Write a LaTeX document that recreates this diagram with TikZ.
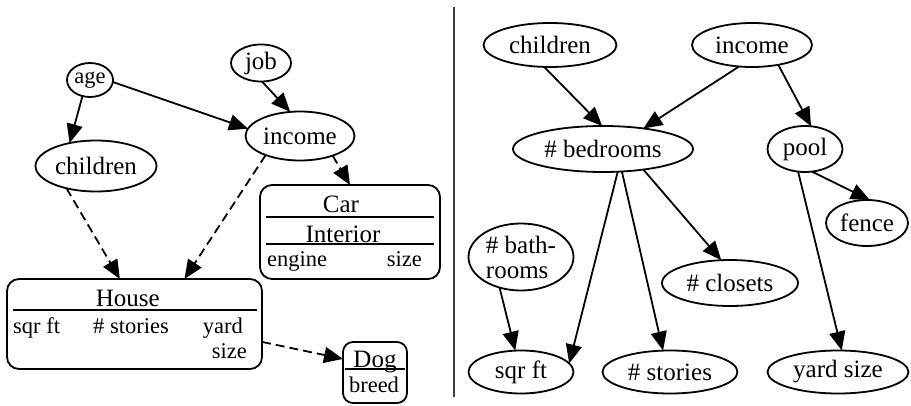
\documentclass[tikz,border=0pt]{standalone}
\usepackage{fontspec}
\setmainfont{Liberation Serif}
\usetikzlibrary{arrows.meta, shapes.geometric}
\tikzset{
	varnode/.style={ellipse, draw, line width=1.8pt, inner sep=0pt, outer sep=0pt,
		align=center, font=\rmfamily\fontsize{25}{26}\selectfont},
	recbox/.style={rectangle, draw, line width=1.8pt, rounded corners=12pt,
		inner sep=0pt, outer sep=0pt},
	headtxt/.style={anchor=base, inner sep=0pt, font=\rmfamily\fontsize{25}{26}\selectfont},
	fieldtxt/.style={inner sep=0pt, font=\rmfamily\fontsize{22.5}{24}\selectfont},
	recline/.style={line width=1.8pt},
	deparr/.style={-{Triangle[length=19pt, width=16pt]}, line width=1.8pt},
	dasharr/.style={deparr, dash pattern=on 9pt off 5pt}
}
\begin{document}
\begin{tikzpicture}[x=1pt, y=-1pt]
	\useasboundingbox (0,0) rectangle (911,406);
	% left: objects and records
	\node[varnode, minimum width=46pt, minimum height=34pt,
		font=\rmfamily\fontsize{22.5}{24}\selectfont] (age) at (90,80) {age};
	\node[varnode, minimum width=60pt, minimum height=37pt] (job) at (261,63) {job};
	\node[varnode, minimum width=109pt, minimum height=49pt] (linc) at (300,136) {income};
	\node[varnode, minimum width=121pt, minimum height=51pt] (lchild) at (96,166) {children};
	% car record
	\node[recbox, minimum width=180pt, minimum height=94pt] (car) at (350,232) {};
	\node[headtxt] (carhead) at (341,213) {Car};
	\draw[recline] (266,216.7) -- (434,216.7);
	\node[headtxt] (carint) at (343,242.7) {Interior};
	\draw[recline] (266,244.3) -- (434,244.3);
	\node[fieldtxt, anchor=base west] (carengine) at (267,267) {engine};
	\node[fieldtxt, anchor=base east] (carsize) at (422,267) {size};
	% house record
	\node[recbox, minimum width=255pt, minimum height=90pt] (house) at (134.5,324) {};
	\node[headtxt] (househead) at (127.7,306) {House};
	\draw[recline] (13,310) -- (257,310);
	\node[fieldtxt, anchor=base west] (hsqft) at (13,333.7) {sqr ft};
	\node[fieldtxt, anchor=base west] (hstories) at (93,333.7) {\# stories};
	\node[fieldtxt, anchor=base east] (hyard) at (243,333.7) {yard};
	\node[fieldtxt, anchor=base east] (hsize) at (247,358) {size};
	% dog record
	\node[recbox, rounded corners=10pt, minimum width=64pt, minimum height=61pt] (dog) at (375,372.5) {};
	\node[headtxt] (doghead) at (375,367) {Dog};
	\draw[recline] (345,369) -- (405,369);
	\node[fieldtxt, anchor=base] (dogbreed) at (374,392) {breed};
	\foreach \a/\b in {age.-115/lchild.139, age.-5/linc.172, job.-87/linc.112}
		\draw[deparr] (\a) -- (\b);
	\foreach \a/\b in {linc.-31/car.90, lchild.-143/house.108, linc.-151/house.42, house.-8/dog.157}
		\draw[dasharr] (\a) -- (\b);
	% separator
	\draw[line width=2pt, black!75] (454,7) -- (454,397);
	% right: flat variables
	\node[varnode, minimum width=133pt, minimum height=44pt] (rchild) at (550,45) {children};
	\node[varnode, minimum width=120pt, minimum height=44pt] (rinc) at (752,45) {income};
	\node[varnode, minimum width=180pt, minimum height=46pt] (bed) at (603,149) {\# bedrooms};
	\node[varnode, minimum width=75pt, minimum height=46pt] (pool) at (805,149) {pool};
	\node[varnode, minimum width=82pt, minimum height=46pt] (fence) at (867,223) {fence};
	\node[varnode, minimum width=105pt, minimum height=67pt, align=left,
		font=\rmfamily\fontsize{25}{25}\selectfont] (bath) at (521,257) {\# bath-\\rooms};
	\node[varnode, minimum width=136pt, minimum height=46pt] (closet) at (730,283) {\# closets};
	\node[varnode, minimum width=105pt, minimum height=43pt] (sqft) at (521,372) {sqr ft};
	\node[varnode, minimum width=135pt, minimum height=43pt] (stories) at (670,372) {\# stories};
	\node[varnode, minimum width=141pt, minimum height=43pt] (yard) at (838,372) {yard size};
	\foreach \a/\b in {rchild.-105/bed.92, rinc.-121/bed.27, rinc.-37/pool.75,
		pool.-73/fence.83, pool.-107/yard.80, bed.-57/sqft.10, bed.-50/stories.108,
		bed.-27/closet.111, bath.-125/sqft.105}
		\draw[deparr] (\a) -- (\b);
\end{tikzpicture}
\end{document}
